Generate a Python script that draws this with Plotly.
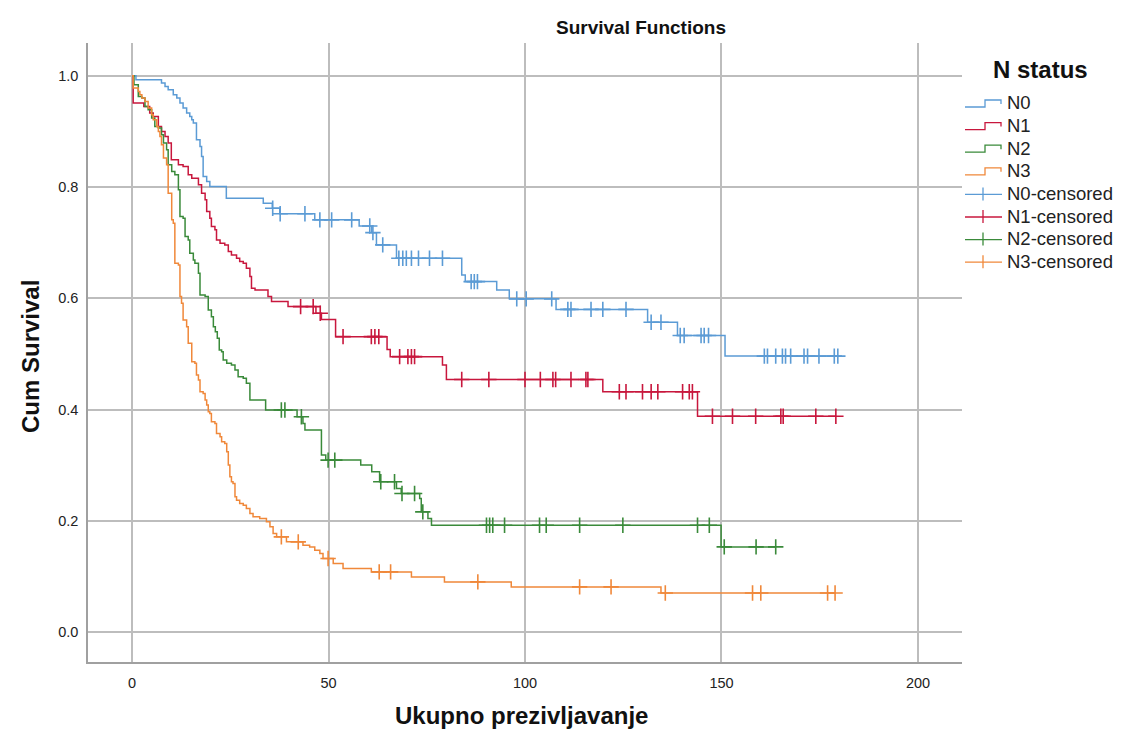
import numpy as np
import plotly.graph_objects as go

# ---------------- data ----------------
groups = ["N0", "N1", "N2", "N3"]

t_n0 = [0, 1, 7.5, 8.4, 9.2, 10.5, 11.4, 12.2, 13.0, 13.9, 14.7, 15.2, 15.6, 16.4, 17.3, 17.7,
        18.1, 19.0, 19.8, 24.0, 33.4, 35.7, 37.6, 46.5, 57.8, 61.0, 62.2, 67.3, 83.9, 84.8,
        92.8, 96.0, 107.9, 131.2, 138.8, 150.9]
s_n0 = [1.0, 0.993, 0.987, 0.981, 0.975, 0.966, 0.960, 0.951, 0.942, 0.933, 0.927, 0.921, 0.915,
        0.885, 0.873, 0.855, 0.819, 0.810, 0.801, 0.780, 0.771, 0.762, 0.752, 0.741, 0.730,
        0.718, 0.696, 0.672, 0.642, 0.630, 0.615, 0.599, 0.580, 0.557, 0.533, 0.496]
c_n0 = [35.8, 37.7, 44.0, 47.8, 50.8, 55.9, 60.5, 61.3, 63.8, 67.9, 68.9, 69.8, 71.1, 72.9,
        75.7, 79.0, 86.3, 87.1, 87.9, 97.9, 100.3, 106.8, 110.9, 111.7, 116.8, 119.8, 125.7,
        132.1, 134.6, 139.5, 140.5, 144.8, 145.6, 146.7, 160.9, 161.7, 163.8, 165.5, 166.3,
        167.6, 171.0, 171.9, 174.8, 178.7, 179.6]

t_n1 = [0, 0.3, 3.0, 4.5, 5.4, 6.7, 7.5, 8.4, 9.2, 10.0, 11.8, 13.0, 14.3, 15.2, 16.9, 17.7,
        18.6, 19.0, 19.8, 20.2, 21.1, 21.5, 22.4, 23.6, 24.5, 25.3, 26.6, 27.4, 28.3, 29.1,
        30.0, 30.4, 31.3, 34.6, 35.5, 39.7, 46.8, 48.2, 51.8, 64.9, 65.7, 79.0, 80.0, 119.8,
        143.9]
s_n1 = [1.0, 0.951, 0.945, 0.933, 0.927, 0.909, 0.900, 0.891, 0.879, 0.849, 0.840, 0.837,
        0.822, 0.816, 0.804, 0.789, 0.777, 0.756, 0.744, 0.729, 0.723, 0.705, 0.699, 0.696,
        0.684, 0.678, 0.672, 0.666, 0.663, 0.654, 0.639, 0.618, 0.615, 0.603, 0.594, 0.585,
        0.573, 0.562, 0.531, 0.508, 0.495, 0.480, 0.454, 0.432, 0.388]
c_n1 = [42.9, 46.1, 47.9, 53.7, 60.9, 61.8, 62.8, 68.1, 70.2, 71.1, 71.9, 83.9, 90.8, 100.0,
        103.9, 107.1, 107.8, 111.7, 115.5, 116.0, 124.0, 125.7, 129.9, 132.1, 133.8, 140.1,
        141.8, 142.6, 147.7, 152.8, 158.7, 165.1, 165.7, 174.0, 179.1]

t_n2 = [0, 0.5, 1.6, 2.5, 3.3, 4.1, 5.0, 5.8, 6.7, 7.5, 8.0, 8.8, 9.2, 10.1, 10.9, 11.8, 12.2,
        13.0, 13.5, 14.3, 14.7, 15.6, 16.0, 16.9, 17.3, 18.6, 19.4, 20.2, 20.7, 21.2, 21.7,
        22.2, 22.8, 23.2, 24.1, 25.3, 26.2, 27.0, 28.3, 29.1, 30.0, 34.0, 42.0, 43.5, 44.0,
        48.2, 49.3, 58.2, 61.0, 63.0, 67.3, 68.5, 73.2, 73.6, 75.3, 76.2, 149.9]
s_n2 = [1.0, 0.984, 0.963, 0.960, 0.945, 0.939, 0.924, 0.909, 0.906, 0.894, 0.879, 0.867,
        0.840, 0.828, 0.822, 0.795, 0.747, 0.744, 0.711, 0.705, 0.681, 0.669, 0.663, 0.645,
        0.606, 0.603, 0.579, 0.567, 0.549, 0.540, 0.528, 0.507, 0.504, 0.489, 0.483, 0.480,
        0.471, 0.459, 0.456, 0.447, 0.417, 0.399, 0.387, 0.375, 0.363, 0.318, 0.309, 0.300,
        0.288, 0.270, 0.258, 0.249, 0.240, 0.216, 0.204, 0.192, 0.153]
c_n2 = [38.0, 38.9, 43.1, 49.9, 51.6, 63.3, 66.8, 68.7, 71.9, 74.0, 90.2, 91.0, 91.8, 94.8,
        103.7, 105.4, 113.9, 124.9, 143.9, 146.9, 150.7, 158.8, 163.8]

t_n3 = [0, 0.3, 1.6, 2.0, 2.5, 3.3, 4.1, 5.0, 5.4, 6.3, 6.7, 7.1, 7.5, 8.0, 8.8, 9.2, 10.1,
        10.5, 10.9, 11.8, 12.2, 12.6, 13.0, 13.9, 14.3, 15.2, 16.0, 16.4, 16.9, 17.3, 18.1,
        18.6, 19.0, 19.4, 19.8, 20.2, 21.1, 21.5, 22.4, 22.8, 23.6, 24.1, 24.5, 24.9, 25.3,
        25.7, 26.2, 26.6, 27.4, 28.3, 29.1, 30.0, 30.8, 32.5, 34.2, 35.1, 35.9, 36.8, 39.3,
        43.5, 45.2, 46.5, 47.8, 48.6, 51.2, 53.7, 60.9, 71.1, 79.5, 96.5, 134.6]
s_n3 = [1.0, 0.978, 0.972, 0.966, 0.960, 0.954, 0.942, 0.930, 0.921, 0.909, 0.900, 0.891,
        0.876, 0.852, 0.840, 0.789, 0.741, 0.735, 0.663, 0.660, 0.603, 0.591, 0.561, 0.549,
        0.519, 0.486, 0.483, 0.462, 0.453, 0.432, 0.429, 0.417, 0.408, 0.396, 0.393, 0.378,
        0.375, 0.357, 0.351, 0.342, 0.339, 0.324, 0.300, 0.279, 0.270, 0.267, 0.243, 0.237,
        0.231, 0.228, 0.222, 0.213, 0.207, 0.204, 0.198, 0.189, 0.177, 0.171, 0.162, 0.156,
        0.153, 0.147, 0.141, 0.132, 0.123, 0.114, 0.108, 0.099, 0.090, 0.081, 0.070]
c_n3 = [38.0, 42.3, 49.9, 62.9, 65.8, 88.0, 113.9, 121.9, 135.7, 157.9, 160.0, 177.0, 178.9]

times = [t_n0, t_n1, t_n2, t_n3]
survs = [s_n0, s_n1, s_n2, s_n3]
cens = [c_n0, c_n1, c_n2, c_n3]
colors = ["#5b9bd5", "#c8173d", "#3a8a3a", "#f0883a"]

x_ticks = [0, 50, 100, 150, 200]
y_ticks = [0.0, 0.2, 0.4, 0.6, 0.8, 1.0]

FONT = "Liberation Sans, Arial, sans-serif"

# plot-area pixel geometry
L, R, T, B = 88, 163, 43, 80
W, H = 1125, 742
PW, PH = W - L - R, H - T - B


def px2paper(px, py):
    return (px - L) / PW, (H - B - py) / PH


fig = go.Figure()

for g, t, s, c, col in zip(groups, times, survs, cens, colors):
    t_arr = np.array(t, dtype=float)
    s_arr = np.array(s, dtype=float)
    end = max(c) if c else t_arr[-1]
    xs = list(t_arr) + [end]
    ys = list(s_arr) + [s_arr[-1]]
    fig.add_trace(go.Scatter(x=xs, y=ys, mode="lines", line=dict(color=col, width=1.5, shape="hv"),
                             name=g, showlegend=False, hoverinfo="skip"))
    c_arr = np.array(c, dtype=float)
    idx = np.searchsorted(t_arr, c_arr, side="right") - 1
    fig.add_trace(go.Scatter(x=c_arr, y=s_arr[idx], mode="markers",
                             marker=dict(symbol="cross-thin", size=11, color=col,
                                         line=dict(color=col, width=1.6)),
                             name=g + "-censored", showlegend=False))

# ---------------- manual legend ----------------
shapes = []
annotations = []
row0, dy = 103, 22.6
lx0, lx_mid, lx1, tx = 965, 985, 1001, 1005
LEG_SIZE = 18.5
for i, (g, col) in enumerate(zip(groups, colors)):
    py = row0 + i * dy
    pts = [(lx0, py + 4), (lx_mid, py + 4), (lx_mid, py - 3), (lx1, py - 3), (lx1, py + 1)]
    path = "M " + " L ".join("%.5f %.5f" % px2paper(a, b) for a, b in pts)
    shapes.append(dict(type="path", path=path, xref="paper", yref="paper",
                       line=dict(color=col, width=1.3)))
    xp, yp = px2paper(tx, py)
    annotations.append(dict(text=g, x=xp, y=yp, xref="paper", yref="paper", showarrow=False,
                            xanchor="left", yanchor="middle",
                            font=dict(family=FONT, size=LEG_SIZE, color="#222")))
for i, (g, col) in enumerate(zip(groups, colors)):
    py = row0 + (i + 4) * dy
    xa, ya = px2paper(lx0, py + 1)
    xb, yb = px2paper(lx1 + 1, py + 1)
    shapes.append(dict(type="line", x0=xa, y0=ya, x1=xb, y1=yb, xref="paper", yref="paper",
                       line=dict(color=col, width=1.3)))
    xc, yc0 = px2paper(983, py - 6)
    _, yc1 = px2paper(983, py + 7)
    shapes.append(dict(type="line", x0=xc, y0=yc0, x1=xc, y1=yc1, xref="paper", yref="paper",
                       line=dict(color=col, width=1.3)))
    xp, yp = px2paper(tx, py)
    annotations.append(dict(text=g + "-censored", x=xp, y=yp, xref="paper", yref="paper",
                            showarrow=False, xanchor="left", yanchor="middle",
                            font=dict(family=FONT, size=LEG_SIZE, color="#222")))

xp, yp = px2paper(1040, 69)
annotations.append(dict(text="<b>N status</b>", x=xp, y=yp, xref="paper", yref="paper", showarrow=False,
                        xanchor="center", yanchor="middle", font=dict(family=FONT, size=24, color="#111")))

# titles
xp, yp = px2paper(641, 28)
annotations.append(dict(text="<b>Survival Functions</b>", x=xp, y=yp, xref="paper", yref="paper",
                        showarrow=False, xanchor="center", yanchor="middle",
                        font=dict(family=FONT, size=19, color="#111")))
xp, yp = px2paper(521, 716)
annotations.append(dict(text="<b>Ukupno prezivljavanje</b>", x=xp, y=yp, xref="paper", yref="paper",
                        showarrow=False, xanchor="center", yanchor="middle",
                        font=dict(family=FONT, size=24, color="#111")))
xp, yp = px2paper(30, 357)
annotations.append(dict(text="<b>Cum Survival</b>", x=xp, y=yp, xref="paper", yref="paper",
                        showarrow=False, xanchor="center", yanchor="middle", textangle=-90,
                        font=dict(family=FONT, size=24, color="#111")))

grid = "#bdbdbd"
fig.update_layout(
    width=W, height=H,
    margin=dict(l=L, r=R, t=T, b=B, pad=0),
    paper_bgcolor="white", plot_bgcolor="white",
    showlegend=False,
    shapes=shapes, annotations=annotations,
    xaxis=dict(range=[-11.2, 211.2], tickvals=x_ticks, ticktext=[str(v) for v in x_ticks],
               showgrid=True, gridcolor=grid, gridwidth=1.5, zeroline=False,
               showline=True, linecolor="#a0a0a0", linewidth=1.5,
               ticks="outside", ticklen=7, tickcolor="rgba(0,0,0,0)",
               tickfont=dict(family=FONT, size=14.5, color="#222")),
    yaxis=dict(range=[-0.054, 1.059], tickvals=y_ticks, ticktext=["%.1f" % v for v in y_ticks],
               showgrid=True, gridcolor=grid, gridwidth=1.5, zeroline=False,
               showline=True, linecolor="#a0a0a0", linewidth=1.5,
               ticks="outside", ticklen=5, tickcolor="rgba(0,0,0,0)",
               tickfont=dict(family=FONT, size=14.5, color="#222")),
)

fig.write_html("out.html")
